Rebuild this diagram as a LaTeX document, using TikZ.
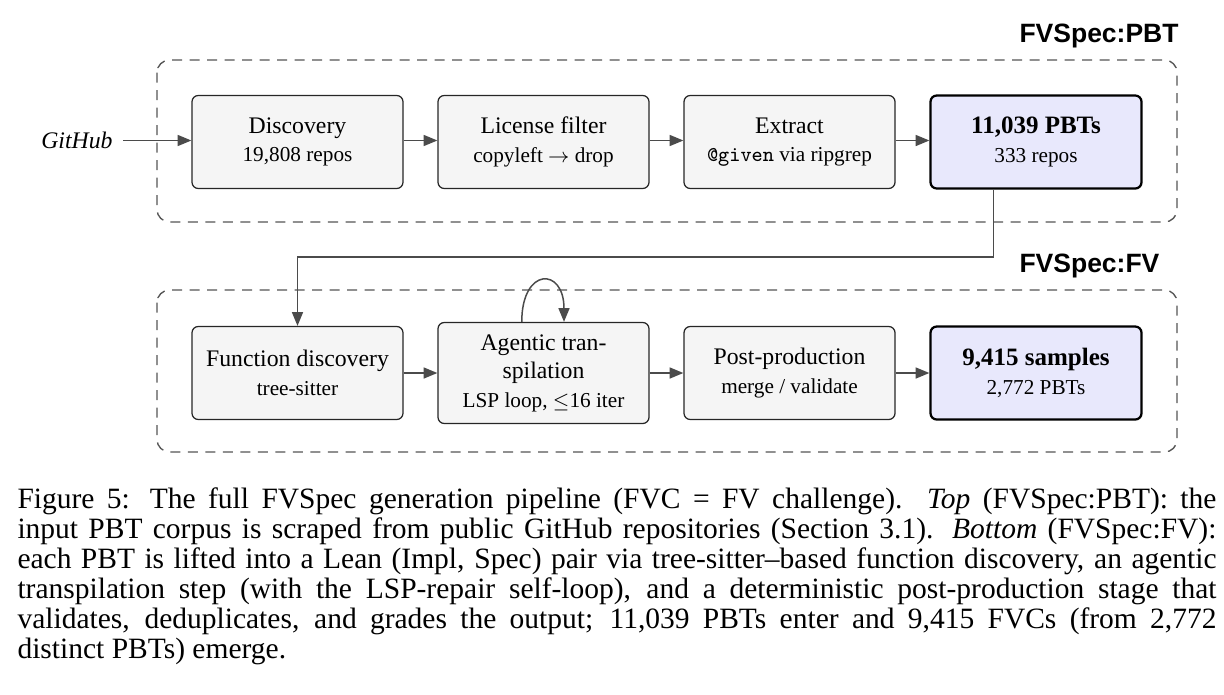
\documentclass[tikz,border=0pt]{standalone}
\usepackage{fontspec}
\setmainfont{Liberation Serif}
\newfontfamily\labelfont{Liberation Sans}
\usetikzlibrary{arrows.meta,calc}
\definecolor{boxfill}{RGB}{245,245,245}
\definecolor{outfill}{RGB}{232,232,252}
\definecolor{linegray}{RGB}{75,75,75}
\definecolor{dashgray}{RGB}{85,85,85}
\newcommand{\mainsz}{\fontsize{9.5}{11.4}\selectfont}
\newcommand{\subsz}{\fontsize{8.5}{11.4}\selectfont}
\newcommand{\boldsz}{\fontsize{10}{11.4}\selectfont\bfseries}
\newcommand{\capline}[1]{\makebox[479.6pt][s]{#1}}
\begin{document}
\begin{tikzpicture}[x=0.4pt,y=-0.4pt,
  stagebox/.style={draw=black!85, fill=boxfill, rounded corners=2.5pt, line width=0.5pt,
    minimum width=84.4pt, minimum height=37.2pt, align=center, inner sep=0pt, font=\mainsz},
  outbox/.style={stagebox, fill=outfill, draw=black, line width=0.9pt},
  grp/.style={draw=dashgray, dash pattern=on 4pt off 3pt, rounded corners=5pt, line width=0.55pt},
  arr/.style={draw=linegray, line width=0.6pt, -{Triangle[length=5.5pt,width=4.4pt]}},
  grplabel/.style={font=\labelfont\bfseries\fontsize{10.6}{12}\selectfont, anchor=base west, inner sep=0pt}
]
\useasboundingbox (0,0) rectangle (1224,694);

% group frames
\draw[grp] (157,60) rectangle (1177,222);
\draw[grp] (157,290) rectangle (1177,452);
\node[grplabel] (lblpbt) at (1019,42) {FVSpec:PBT};
\node[grplabel] (lblfv) at (1019,272) {FVSpec:FV};

% top row
\node[font=\itshape\mainsz, inner xsep=4pt, anchor=east] (gh) at (123,140.5) {GitHub};
\node[stagebox] (disc) at (297.5,142) {Discovery\\{\subsz 19,808 repos}};
\node[stagebox] (lic) at (543.5,142) {License filter\\{\subsz copyleft $\rightarrow$ drop}};
\node[stagebox] (ext) at (789.5,142) {Extract\\{\subsz\texttt{@given} via ripgrep}};
\node[outbox] (pbt) at (1036,142) {{\boldsz 11,039 PBTs}\\{\subsz 333 repos}};

\draw[arr] (gh.east) -- (gh.east -| disc.west);
\draw[arr] (disc.east |- gh.east) -- (lic.west |- gh.east);
\draw[arr] (lic.east |- gh.east) -- (ext.west |- gh.east);
\draw[arr] (ext.east |- gh.east) -- (pbt.west |- gh.east);

% bottom row
\node[stagebox] (fdisc) at (297.5,373) {Function discovery\\{\subsz tree-sitter}};
\node[stagebox, minimum height=40.4pt] (agent) at (543.5,373) {Agentic tran-\\spilation\\{\subsz LSP loop, $\leq$16 iter}};
\node[stagebox] (post) at (789.5,373) {Post-production\\{\subsz merge / validate}};
\node[outbox] (samp) at (1036,373) {{\boldsz 9,415 samples}\\{\subsz 2,772 PBTs}};

\draw[arr] (fdisc) -- (agent);
\draw[arr] (agent) -- (post);
\draw[arr] (post) -- (samp);

% connector between the groups
\coordinate (turn) at (297.5,257);
\draw[arr] ([xshift=-17.1pt]pbt.south) |- (turn) -- (fdisc.north);

% self loop
\draw[arr] ([xshift=-8.7pt]agent.north) .. controls +(0,-55) and +(0,-55) .. ([xshift=8.2pt]agent.north);

% caption
\node[anchor=north west, align=left, inner sep=0pt,
  font=\fontsize{11.8}{12}\selectfont] (cap) at (17,487)
{\capline{Figure 5: The full FVSpec generation pipeline (FVC = FV challenge).\ \ \textit{Top} (FVSpec:PBT): the}\\
\capline{input PBT corpus is scraped from public GitHub repositories (Section 3.1). \textit{Bottom} (FVSpec:FV):}\\
\capline{each PBT is lifted into a Lean (Impl, Spec) pair via tree-sitter--based function discovery, an agentic}\\
\capline{transpilation step (with the LSP-repair self-loop), and a deterministic post-production stage that}\\
\capline{validates, deduplicates, and grades the output; 11,039 PBTs enter and 9,415 FVCs (from 2,772}\\
distinct PBTs) emerge.};
\end{tikzpicture}
\end{document}
